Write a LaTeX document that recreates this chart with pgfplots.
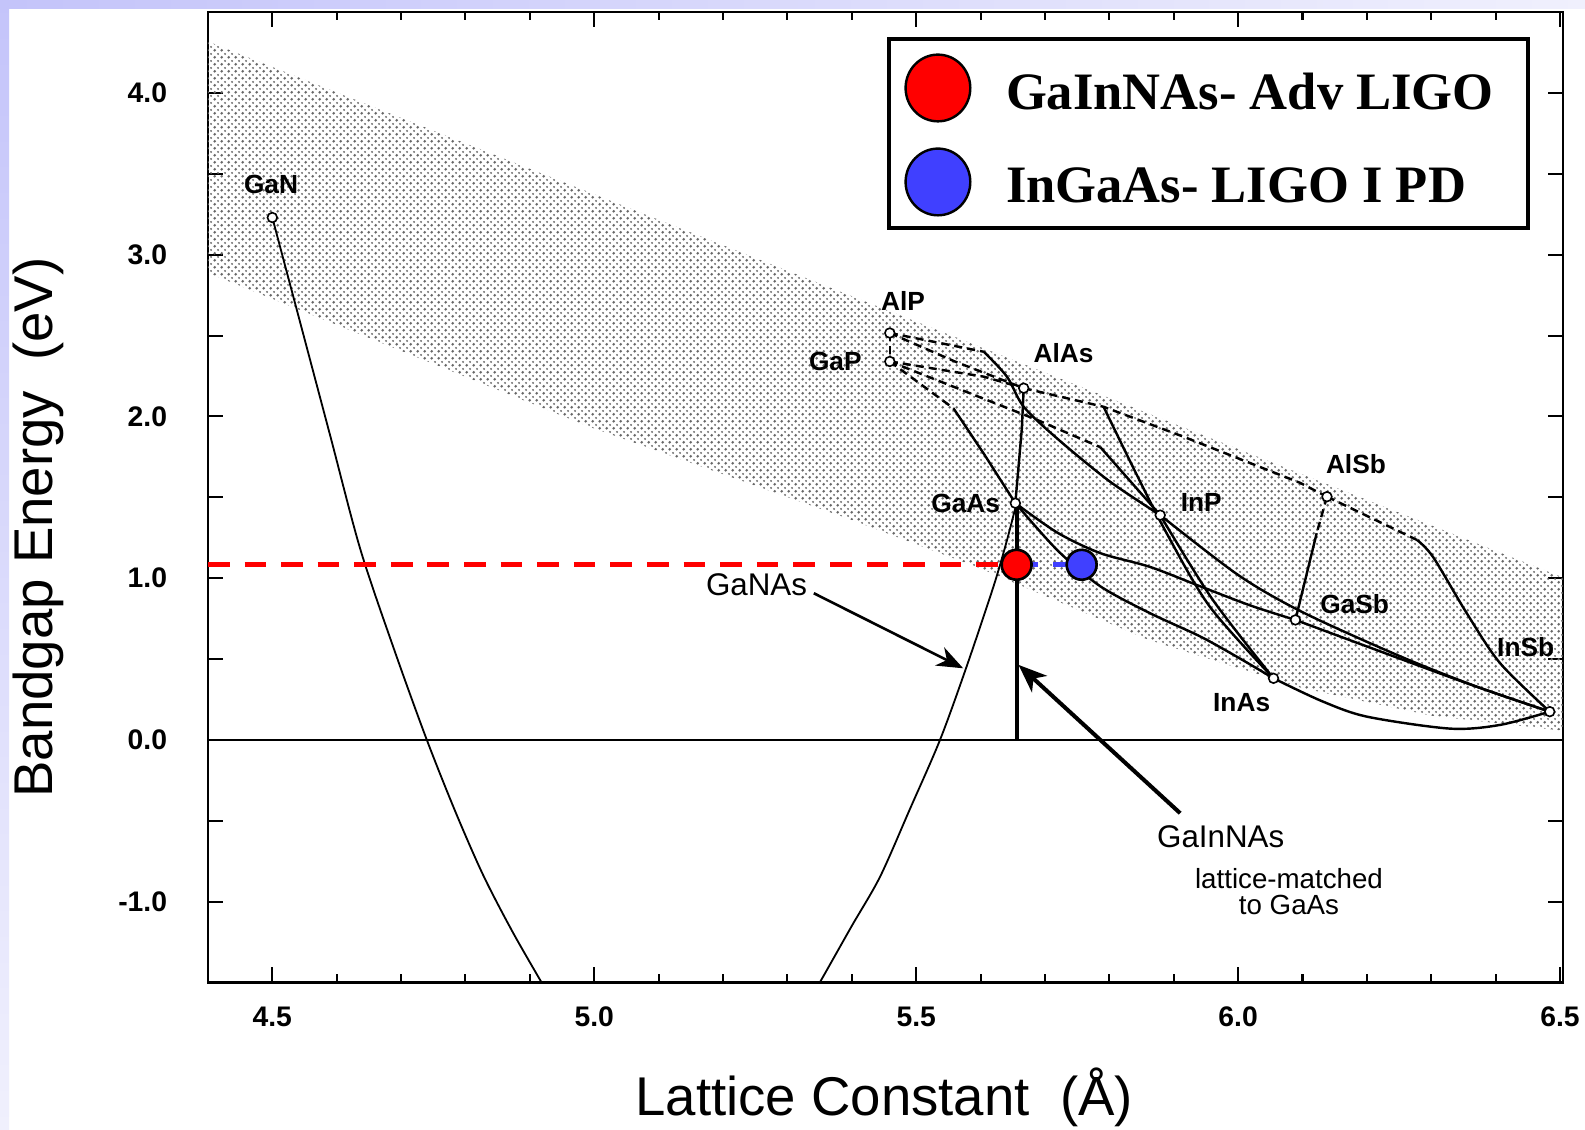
\documentclass[border=0pt]{standalone}
\usepackage{fontspec}
\setmainfont{Liberation Sans}
\newfontfamily\legendfont{Liberation Serif}
\usepackage{pgfplots}
\pgfplotsset{compat=1.18}
\usetikzlibrary{patterns,patterns.meta,arrows.meta}
\definecolor{lav}{RGB}{196,196,250}
\definecolor{lavlight}{RGB}{240,240,253}
\definecolor{myblue}{RGB}{64,64,255}
\pgfdeclarepattern{name=stipple, type=uncolored,
  bottom left={\pgfpoint{0pt}{0pt}}, top right={\pgfpoint{3.4pt}{3.4pt}},
  tile size={\pgfpoint{3.4pt}{3.4pt}},
  code={\pgfpathcircle{\pgfpoint{0.85pt}{0.85pt}}{0.7pt}\pgfpathcircle{\pgfpoint{2.55pt}{2.55pt}}{0.55pt}\pgfusepath{fill}}}
\begin{document}
\begin{tikzpicture}
\useasboundingbox (-102.85pt,-72.5pt) rectangle (681.15pt,486pt);
\fill[white] (-102.85pt,-72.5pt) rectangle (681.15pt,486pt);
\shade[top color=lav,bottom color=lavlight] (-102.85pt,-72.5pt) rectangle (-98.35pt,486pt);
\shade[left color=lav,right color=lavlight] (-98.35pt,482pt) rectangle (681.15pt,486pt);
\begin{axis}[
  scale only axis, width=670.4pt, height=480pt,
  xmin=4.40, xmax=6.505, ymin=-1.5, ymax=4.5,
  clip mode=individual,
  cycle list={{black, no markers}},
  axis line style={line width=1.2pt},
  tick align=inside, xtick pos=both, ytick pos=both,
  xtick={4.5,5.0,5.5,6.0,6.5}, xticklabels={4.5,5.0,5.5,6.0,6.5},
  minor x tick num=4,
  ytick={-1,-0.5,...,4}, yticklabels={-1.0,,0.0,,1.0,,2.0,,3.0,,4.0},
  major tick length=7.5pt, minor tick length=4pt,
  tick style={line width=1pt, black},
  ticklabel style={font=\bfseries\fontsize{14}{14}\selectfont, inner sep=0pt},
  yticklabel style={xshift=-20pt},
  xticklabel style={yshift=-12pt},
  xlabel={Lattice Constant\ \ (Å)}, ylabel={Bandgap Energy\ \ (eV)},
  label style={font=\fontsize{27}{27}\selectfont},
  xlabel style={at={(axis description cs:0.499,-0.118)}, anchor=center},
  ylabel style={at={(axis description cs:-0.125,0.469)}, anchor=center},
  every axis plot/.append style={line width=1.2pt, black},
  ind/.style={no markers, dash pattern=on 4pt off 2.5pt},
  sol/.style={no markers},
]
% shaded band of III-V compounds
\addplot[draw=none, pattern=stipple, pattern color=black!60] coordinates {
  (4.38,4.35) (6.52,0.98)
  (6.52,0.05) (6.30,0.15) (6.10,0.32) (5.86,0.62) (5.60,1.06) (5.40,1.36) (4.99,1.94) (4.38,2.92)} -- cycle;
% zero line
\addplot[sol, line width=0.9pt] coordinates {(4.40,0) (6.505,0)};
% GaNAs from GaN side
\addplot[sol, smooth, line width=0.9pt] coordinates {(4.50,3.23) (4.54,2.63) (4.59,1.88) (4.637,1.175) (4.69,0.55) (4.74,0.0) (4.785,-0.45) (4.828,-0.84) (4.875,-1.20) (4.93,-1.58)};
% GaNAs from GaAs side
\addplot[sol, smooth, line width=0.9pt] coordinates {(5.33,-1.64) (5.356,-1.46) (5.40,-1.15) (5.444,-0.845) (5.49,-0.43) (5.537,0.0) (5.578,0.45) (5.62,0.948) (5.64,1.22) (5.655,1.45)};
% GaInNAs lattice-matched
\addplot[sol, line width=2pt] coordinates {(5.656,0) (5.656,1.45)};
% AlGaP
\addplot[ind] coordinates {(5.459,2.516) (5.459,2.34)};
% AlPAs
\addplot[ind] coordinates {(5.459,2.516) (5.56,2.34) (5.667,2.175)};
% GaPAs (to AlAs region)
\addplot[ind] coordinates {(5.459,2.34) (5.605,2.246) (5.667,2.175)};
% AlInP
\addplot[ind] coordinates {(5.459,2.516) (5.605,2.40)};
\addplot[sol, smooth] coordinates {(5.605,2.40) (5.641,2.246) (5.667,2.06) (5.72,1.86) (5.80,1.60) (5.879,1.39)};
% GaInP
\addplot[ind] coordinates {(5.459,2.34) (5.687,1.98) (5.786,1.81)};
\addplot[sol] coordinates {(5.786,1.81) (5.879,1.39)};
% GaAsP
\addplot[ind] coordinates {(5.459,2.34) (5.558,2.05)};
\addplot[sol] coordinates {(5.558,2.05) (5.605,1.77) (5.654,1.464)};
% AlGaAs
\addplot[sol] coordinates {(5.654,1.464) (5.664,1.92) (5.667,2.175)};
% AlAsSb
\addplot[ind] coordinates {(5.667,2.175) (5.791,2.06) (5.915,1.875) (6.096,1.59) (6.138,1.504)};
% AlInAs
\addplot[sol, smooth] coordinates {(5.791,2.06) (5.84,1.66) (5.889,1.278) (5.956,0.824) (6.055,0.381)};
% AlGaSb
\addplot[ind] coordinates {(6.138,1.504) (6.122,1.278)};
\addplot[sol] coordinates {(6.122,1.278) (6.089,0.742)};
% AlInSb
\addplot[ind] coordinates {(6.138,1.504) (6.278,1.236)};
\addplot[sol, smooth] coordinates {(6.278,1.236) (6.303,1.13) (6.355,0.784) (6.407,0.474) (6.484,0.175)};
% InAsSb
\addplot[sol, smooth] coordinates {(6.055,0.381) (6.13,0.24) (6.20,0.144) (6.329,0.07) (6.407,0.093) (6.484,0.175)};
% GaInSb
\addplot[sol, smooth] coordinates {(6.089,0.742) (6.20,0.578) (6.355,0.351) (6.484,0.175)};
% GaAsSb
\addplot[sol, smooth] coordinates {(5.654,1.464) (5.72,1.28) (5.786,1.155) (5.863,1.07) (5.941,0.95) (6.02,0.83) (6.089,0.742)};
% GaInAs
\addplot[sol, smooth] coordinates {(5.654,1.464) (5.72,1.17) (5.786,0.95) (5.863,0.784) (5.941,0.64) (6.0,0.51) (6.055,0.381)};
% InAsP
\addplot[sol, smooth] coordinates {(5.879,1.39) (5.96,0.87) (6.055,0.381)};
% InPSb
\addplot[sol, smooth] coordinates {(5.879,1.39) (6.0,1.02) (6.1,0.79) (6.25,0.52) (6.37,0.33) (6.484,0.175)};
% binary compounds
\addplot[only marks, mark=*, mark size=2.4pt, mark options={fill=white, draw=black, line width=0.8pt}] coordinates {
  (4.50,3.23) (5.459,2.516) (5.459,2.34) (5.667,2.175) (5.654,1.464) (5.879,1.39)
  (6.138,1.504) (6.089,0.742) (6.055,0.381) (6.484,0.175)};
% detector wavelength lines
\addplot[sol, myblue, line width=2.3pt, dash pattern=on 10.7pt off 7.4pt] coordinates {(5.656,1.083) (5.757,1.083)};
\addplot[sol, red, line width=2.3pt, dash pattern=on 10.7pt off 7.4pt] coordinates {(4.40,1.083) (5.656,1.083)};
\addplot[only marks, mark=*, mark size=7.4pt, mark options={fill=red, draw=black, line width=1.3pt}] coordinates {(5.656,1.083)};
\addplot[only marks, mark=*, mark size=7.4pt, mark options={fill=myblue, draw=black, line width=1.3pt}] coordinates {(5.757,1.083)};
% labels
\begin{scope}[font=\bfseries\fontsize{13}{13}\selectfont]
\node at (axis cs:4.498,3.4375) {GaN};
\node at (axis cs:5.4796,2.7125) {AlP};
\node at (axis cs:5.3744,2.3375) {GaP};
\node at (axis cs:5.729,2.394) {AlAs};
\node at (axis cs:5.577,1.4625) {GaAs};
\node at (axis cs:5.9427,1.469) {InP};
\node at (axis cs:6.183,1.706) {AlSb};
\node at (axis cs:6.181,0.8375) {GaSb};
\node at (axis cs:6.0055,0.231) {InAs};
\node at (axis cs:6.4466,0.575) {InSb};
\end{scope}
\node[font=\fontsize{15.5}{15.5}\selectfont] at (axis cs:5.252,0.9625) {GaNAs};
\node[font=\fontsize{15.5}{15.5}\selectfont] at (axis cs:5.973,-0.5975) {GaInNAs};
\node[font=\fontsize{13.7}{13.2}\selectfont, align=center] at (axis cs:6.079,-0.937) {lattice-matched\\to GaAs};
\draw[line width=1.3pt, -{Stealth[length=13pt,width=10pt,inset=4pt]}] (axis cs:5.341,0.907) -- (axis cs:5.573,0.443);
\draw[line width=2pt, -{Stealth[length=14pt,width=11pt,inset=4pt]}] (axis cs:5.91,-0.453) -- (axis cs:5.659,0.464);
% legend
\draw[line width=2pt, fill=white] (axis cs:5.4585,4.331) rectangle (axis cs:6.4508,3.1625);
\draw[line width=1.2pt, fill=red] (axis cs:5.5338,4.031) ellipse [x radius=16pt, y radius=16.5pt];
\draw[line width=1.2pt, fill=myblue] (axis cs:5.5338,3.45) ellipse [x radius=16pt, y radius=16.5pt];
\node[anchor=base west, inner sep=0pt, font=\legendfont\bfseries\fontsize{26}{26}\selectfont] at (axis cs:5.639,3.90) {GaInNAs- Adv LIGO};
\node[anchor=base west, inner sep=0pt, font=\legendfont\bfseries\fontsize{26}{26}\selectfont] at (axis cs:5.639,3.325) {InGaAs- LIGO I PD};
\end{axis}
\end{tikzpicture}
\end{document}
